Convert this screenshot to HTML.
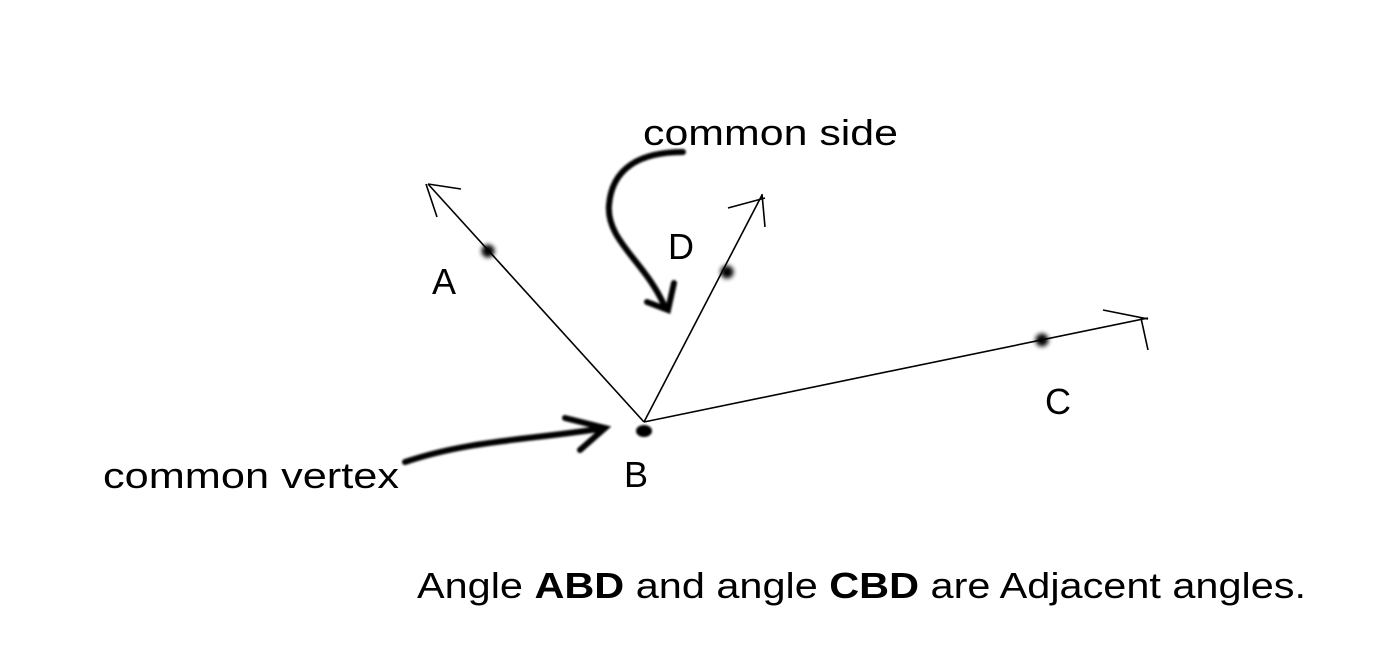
<!DOCTYPE html>
<html><head><style>html,body{margin:0;padding:0;background:#fff}</style></head>
<body>
<svg width="1374" height="654" viewBox="0 0 1374 654" xmlns="http://www.w3.org/2000/svg" font-family="Liberation Sans, sans-serif">
<defs><filter id="b" x="-1" y="-1" width="3" height="3"><feGaussianBlur stdDeviation="2.5"/></filter>
<filter id="s"><feGaussianBlur stdDeviation="1"/></filter></defs>
<g stroke="#000" stroke-width="1.6" fill="none">
<line x1="644" y1="422" x2="428" y2="184"/>
<line x1="428" y1="184" x2="461" y2="189"/>
<line x1="426" y1="184" x2="437" y2="217"/>
<line x1="644" y1="422" x2="762" y2="195"/>
<line x1="728" y1="208" x2="765" y2="198"/>
<line x1="762" y1="194" x2="765" y2="227"/>
<line x1="644" y1="422" x2="1148" y2="318"/>
<line x1="1103" y1="310" x2="1148" y2="319"/>
<line x1="1141" y1="318" x2="1148" y2="350"/>
</g>
<g stroke="#000" stroke-width="6" fill="none" stroke-linecap="round" filter="url(#s)">
<path d="M683 152 C640 152 612 168 609 205 C606 240 645 262 664 305"/>
<path d="M647 302 L668 310 L674 283"/>
<path d="M405 462 C470 440 530 440 605 428"/>
<path d="M565 418 L605 428 L580 450"/>
</g>
<ellipse cx="644" cy="431" rx="8" ry="6" fill="#000" filter="url(#s)"/>
<circle cx="488" cy="251" r="6.5" fill="#000" filter="url(#b)"/>
<circle cx="727" cy="272" r="6.5" fill="#000" filter="url(#b)"/>
<circle cx="1042" cy="340" r="6.5" fill="#000" filter="url(#b)"/>
<g font-size="36" fill="#000">
<text x="643" y="145" textLength="255" lengthAdjust="spacingAndGlyphs">common side</text>
<text x="103" y="488" textLength="296" lengthAdjust="spacingAndGlyphs">common vertex</text>
<text x="432" y="294">A</text>
<text x="668" y="259">D</text>
<text x="1045" y="414">C</text>
<text x="624" y="487">B</text>
<text x="417" y="598" textLength="889" lengthAdjust="spacingAndGlyphs">Angle <tspan font-weight="bold">ABD</tspan> and angle <tspan font-weight="bold">CBD</tspan> are Adjacent angles.</text>
</g>
</svg>
</body></html>
